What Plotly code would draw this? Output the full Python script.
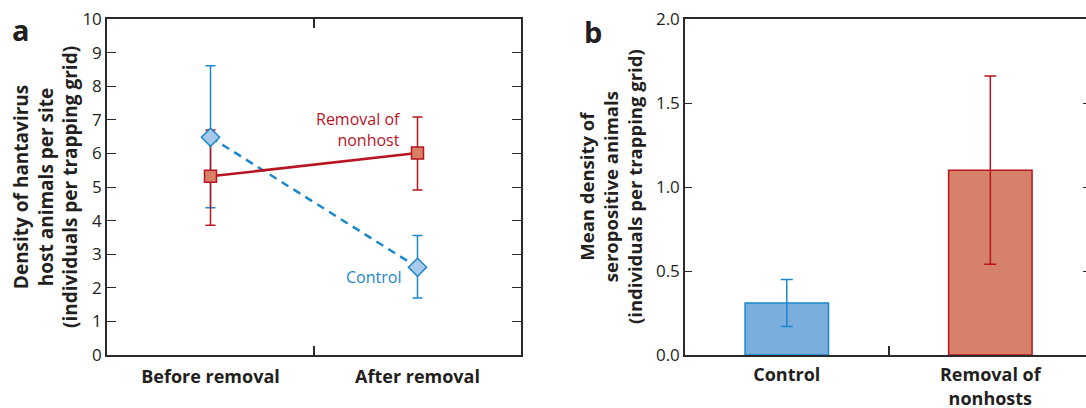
import plotly.graph_objects as go

# ---- data ----
periods = ["Before removal", "After removal"]
control_density = [6.48, 2.61]
control_err_plus = [2.13, 0.95]
control_err_minus = [2.10, 0.91]
removal_density = [5.32, 6.01]
removal_err_plus = [1.38, 1.07]
removal_err_minus = [1.46, 1.10]

groups = ["Control", "Removal of<br>nonhosts"]
sero_density = [0.31, 1.10]
sero_err = [0.14, 0.56]

y_ticks_a = list(range(0, 11))
y_ticks_b = [0.0, 0.5, 1.0, 1.5, 2.0]

BLUE = "#1b88cc"
BLUE_FILL = "#a9c9ea"
RED = "#b8141f"
RED_FILL = "#d87f66"
BAR_BLUE = "#7aaedd"
BAR_RED = "#d6826a"
AX = "#2b2b2b"
TXT = "#231f20"
FONT = "Open Sans"

W, H = 1086, 408
fig = go.Figure()

# error bars first (behind markers)
fig.add_trace(go.Scatter(x=periods, y=control_density, mode="markers",
                         marker=dict(size=1, opacity=0),
                         error_y=dict(type="data", array=control_err_plus, arrayminus=control_err_minus,
                                      color=BLUE, thickness=1.5, width=5),
                         xaxis="x", yaxis="y", showlegend=False, hoverinfo="skip"))
fig.add_trace(go.Scatter(x=periods, y=removal_density, mode="markers",
                         marker=dict(size=1, opacity=0),
                         error_y=dict(type="data", array=removal_err_plus, arrayminus=removal_err_minus,
                                      color=RED, thickness=1.5, width=5),
                         xaxis="x", yaxis="y", showlegend=False, hoverinfo="skip"))
fig.add_trace(go.Scatter(x=periods, y=control_density, mode="lines+markers",
                         line=dict(color=BLUE, width=2.5, dash="8px,6px"),
                         marker=dict(symbol="diamond", size=14, color=BLUE_FILL, line=dict(color=BLUE, width=1.5)),
                         xaxis="x", yaxis="y", showlegend=False))
fig.add_trace(go.Scatter(x=periods, y=removal_density, mode="lines+markers",
                         line=dict(color=RED, width=2.5),
                         marker=dict(symbol="square", size=12, color=RED_FILL, line=dict(color=RED, width=1.5)),
                         xaxis="x", yaxis="y", showlegend=False))

# panel b bars
fig.add_trace(go.Bar(x=groups, y=sero_density, width=0.41,
                     marker=dict(color=[BAR_BLUE, BAR_RED], line=dict(color=[BLUE, RED], width=1.5)),
                     xaxis="x2", yaxis="y2", showlegend=False))
fig.add_trace(go.Scatter(x=groups[:1], y=sero_density[:1], mode="markers", marker=dict(size=1, opacity=0),
                         error_y=dict(type="data", array=sero_err[:1], color=BLUE, thickness=1.5, width=6),
                         xaxis="x2", yaxis="y2", showlegend=False, hoverinfo="skip"))
fig.add_trace(go.Scatter(x=groups[1:], y=sero_density[1:], mode="markers", marker=dict(size=1, opacity=0),
                         error_y=dict(type="data", array=sero_err[1:], color=RED, thickness=1.5, width=6),
                         xaxis="x2", yaxis="y2", showlegend=False, hoverinfo="skip"))
fig.add_trace(go.Scatter(x=[], y=[], xaxis="x2", yaxis="y3", showlegend=False))

def px_x(p):
    return p / W

def px_y(p):
    return 1 - p / H

dom_y = [px_y(355), px_y(19)]
tickfont = dict(family=FONT, size=17, color=TXT)
catfont = dict(family=FONT, size=18, color=TXT, weight="bold")

fig.update_layout(
    width=W, height=H, margin=dict(l=0, r=0, t=0, b=0, autoexpand=False),
    paper_bgcolor="white", plot_bgcolor="white",
    xaxis=dict(domain=[px_x(107), px_x(521)], type="category", range=[-0.5, 1.5],
               showline=True, linecolor=AX, linewidth=1.5, mirror="ticks",
               ticks="inside", tickson="boundaries", ticklen=9, tickcolor=AX, tickwidth=1.5,
               showgrid=False, tickfont=catfont, anchor="y", automargin=False, ticklabelstandoff=5),
    yaxis=dict(domain=dom_y, range=[0, 10], tickvals=y_ticks_a,
               showline=True, linecolor=AX, linewidth=1.5, mirror="ticks",
               ticks="inside", ticklen=9, tickcolor=AX, tickwidth=1.2,
               showgrid=False, zeroline=False, tickfont=tickfont, anchor="x", automargin=False),
    xaxis2=dict(domain=[px_x(685), 1.0], type="category", range=[-0.5, 1.47],
                showline=True, linecolor=AX, linewidth=1.5, mirror=True,
                ticks="inside", tickson="boundaries", ticklen=9, tickcolor=AX, tickwidth=1.5,
                showgrid=False, tickfont=catfont, anchor="y2", automargin=False, ticklabelstandoff=3),
    yaxis2=dict(domain=dom_y, range=[0, 2], tickvals=y_ticks_b, tickformat=".1f",
                showline=True, linecolor=AX, linewidth=1.5, mirror=False,
                ticks="inside", ticklen=7, tickcolor=AX, tickwidth=1.2,
                showgrid=False, zeroline=False, tickfont=tickfont, anchor="x2", automargin=False),
    yaxis3=dict(overlaying="y2", side="right", anchor="free", position=1.0,
                range=[0, 2], tickvals=y_ticks_b, showticklabels=False,
                ticks="inside", ticklen=3, tickcolor=AX, tickwidth=1.2,
                showline=False, showgrid=False, zeroline=False, automargin=False),
)

ann = []
ann.append(dict(text="<b>a</b>", x=px_x(10), y=px_y(30), xref="paper", yref="paper",
                xanchor="left", yanchor="middle", showarrow=False,
                font=dict(family=FONT, size=29, color=TXT)))
ann.append(dict(text="<b>b</b>", x=px_x(582), y=px_y(32), xref="paper", yref="paper",
                xanchor="left", yanchor="middle", showarrow=False,
                font=dict(family=FONT, size=29, color=TXT)))
ann.append(dict(text="<b>Density of hantavirus<br>host animals per site<br>(individuals per trapping grid)</b>",
                x=px_x(46), y=px_y(187), xref="paper", yref="paper", textangle=-90,
                xanchor="center", yanchor="middle", showarrow=False,
                font=dict(family=FONT, size=19, color=TXT)))
ann.append(dict(text="<b>Mean density of<br>seropositive animals<br>(individuals per trapping grid)</b>",
                x=px_x(611), y=px_y(187), xref="paper", yref="paper", textangle=-90,
                xanchor="center", yanchor="middle", showarrow=False,
                font=dict(family=FONT, size=18.5, color=TXT)))
ann.append(dict(text="Removal of<br>nonhost", x=px_x(403), y=px_y(129), xref="paper", yref="paper",
                xanchor="right", yanchor="middle", align="right", showarrow=False,
                font=dict(family=FONT, size=16, color=RED)))
ann.append(dict(text="Control", x=px_x(403), y=px_y(277), xref="paper", yref="paper",
                xanchor="right", yanchor="middle", showarrow=False,
                font=dict(family=FONT, size=16, color=BLUE)))
fig.update_layout(annotations=ann)

fig.write_html("out.html")
